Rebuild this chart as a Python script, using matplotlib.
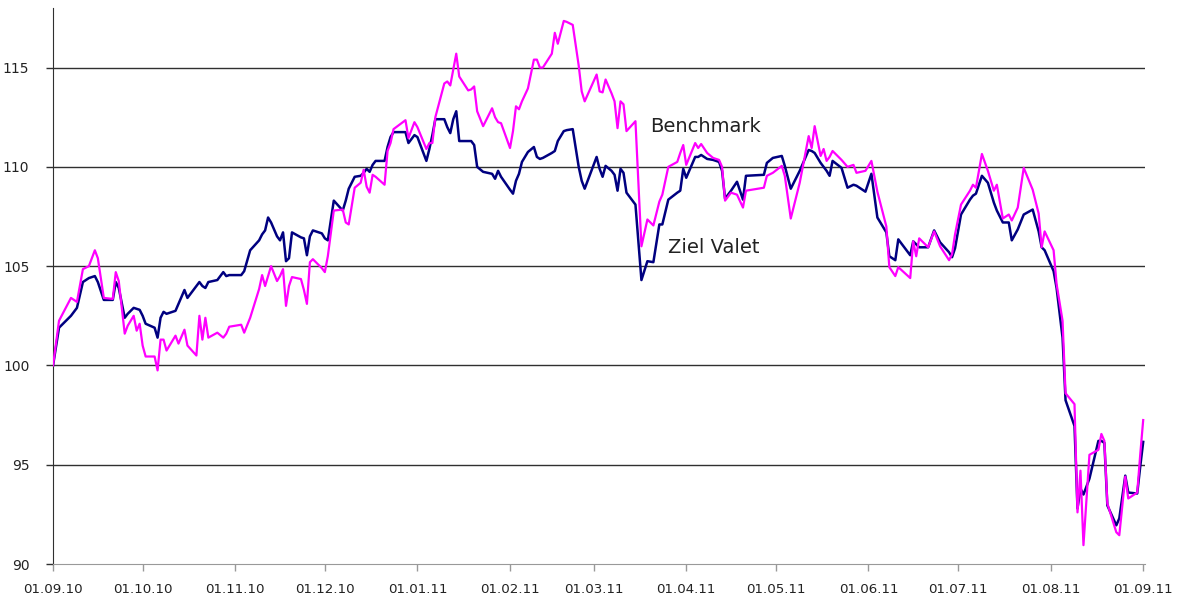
import pandas as pd
import matplotlib.pyplot as plt
import matplotlib.dates as mdates

plt.rcParams['font.family'] = ['DejaVu Sans']

dates = [
    "2010-09-01", "2010-09-03", "2010-09-07", "2010-09-09", "2010-09-11", "2010-09-13", "2010-09-15",
    "2010-09-16", "2010-09-18", "2010-09-21", "2010-09-22", "2010-09-23", "2010-09-25", "2010-09-26",
    "2010-09-28", "2010-09-29", "2010-09-30", "2010-10-01", "2010-10-02", "2010-10-05", "2010-10-06",
    "2010-10-07", "2010-10-08", "2010-10-09", "2010-10-12", "2010-10-13", "2010-10-15", "2010-10-16",
    "2010-10-19", "2010-10-20", "2010-10-21", "2010-10-22", "2010-10-23", "2010-10-26", "2010-10-28",
    "2010-10-29", "2010-10-30", "2010-11-03", "2010-11-04", "2010-11-06", "2010-11-09", "2010-11-10",
    "2010-11-11", "2010-11-12", "2010-11-13", "2010-11-15", "2010-11-16", "2010-11-17", "2010-11-18",
    "2010-11-19", "2010-11-20", "2010-11-23", "2010-11-24", "2010-11-25", "2010-11-26", "2010-11-27",
    "2010-11-30", "2010-12-01", "2010-12-02", "2010-12-04", "2010-12-07", "2010-12-08", "2010-12-09",
    "2010-12-11", "2010-12-13", "2010-12-14", "2010-12-15", "2010-12-16", "2010-12-17", "2010-12-18",
    "2010-12-21", "2010-12-22", "2010-12-23", "2010-12-24", "2010-12-28", "2010-12-29", "2010-12-31",
    "2011-01-01", "2011-01-04", "2011-01-05", "2011-01-06", "2011-01-07", "2011-01-10", "2011-01-11",
    "2011-01-12", "2011-01-13", "2011-01-14", "2011-01-15", "2011-01-18", "2011-01-19", "2011-01-20",
    "2011-01-21", "2011-01-23", "2011-01-26", "2011-01-27", "2011-01-28", "2011-01-29", "2011-02-01",
    "2011-02-02", "2011-02-03", "2011-02-04", "2011-02-05", "2011-02-07", "2011-02-09", "2011-02-10",
    "2011-02-11", "2011-02-12", "2011-02-15", "2011-02-16", "2011-02-17", "2011-02-19", "2011-02-20",
    "2011-02-22", "2011-02-24", "2011-02-25", "2011-02-26", "2011-03-02", "2011-03-03", "2011-03-04",
    "2011-03-05", "2011-03-07", "2011-03-08", "2011-03-09", "2011-03-10", "2011-03-11", "2011-03-12",
    "2011-03-15", "2011-03-17", "2011-03-19", "2011-03-21", "2011-03-23", "2011-03-24", "2011-03-26",
    "2011-03-29", "2011-03-30", "2011-03-31", "2011-04-01", "2011-04-04", "2011-04-05", "2011-04-06",
    "2011-04-08", "2011-04-10", "2011-04-12", "2011-04-13", "2011-04-14", "2011-04-16", "2011-04-18",
    "2011-04-20", "2011-04-21", "2011-04-27", "2011-04-28", "2011-04-30", "2011-05-03", "2011-05-04",
    "2011-05-06", "2011-05-09", "2011-05-12", "2011-05-13", "2011-05-14", "2011-05-16", "2011-05-17",
    "2011-05-18", "2011-05-19", "2011-05-20", "2011-05-23", "2011-05-25", "2011-05-27", "2011-05-28",
    "2011-05-31", "2011-06-02", "2011-06-04", "2011-06-07", "2011-06-08", "2011-06-10", "2011-06-11",
    "2011-06-15", "2011-06-16", "2011-06-17", "2011-06-18", "2011-06-21", "2011-06-23", "2011-06-25",
    "2011-06-28", "2011-06-29", "2011-06-30", "2011-07-02", "2011-07-05", "2011-07-06", "2011-07-07",
    "2011-07-09", "2011-07-11", "2011-07-13", "2011-07-14", "2011-07-16", "2011-07-18", "2011-07-19",
    "2011-07-21", "2011-07-23", "2011-07-26", "2011-07-28", "2011-07-29", "2011-07-30", "2011-08-02",
    "2011-08-03", "2011-08-05", "2011-08-06", "2011-08-09", "2011-08-10", "2011-08-11", "2011-08-12",
    "2011-08-14", "2011-08-17", "2011-08-18", "2011-08-19", "2011-08-20", "2011-08-23", "2011-08-24",
    "2011-08-26", "2011-08-27", "2011-08-30", "2011-08-31", "2011-09-01",
]

ziel_valet = [
    100.0, 101.9, 102.5, 102.9, 104.2, 104.4, 104.5,
    104.2, 103.3, 103.3, 104.2, 103.9, 102.4, 102.6,
    102.9, 102.85, 102.8, 102.5, 102.1, 101.9, 101.4,
    102.4, 102.7, 102.6, 102.75, 103.1, 103.8, 103.4,
    104.0, 104.2, 104.0, 103.9, 104.2, 104.3, 104.7,
    104.5, 104.55, 104.55, 104.75, 105.8, 106.3, 106.6,
    106.8, 107.45, 107.2, 106.5, 106.3, 106.7, 105.25,
    105.4, 106.7, 106.45, 106.4, 105.55, 106.5, 106.8,
    106.65, 106.4, 106.3, 108.3, 107.8, 108.3, 108.9,
    109.5, 109.55, 109.7, 109.9, 109.75, 110.1, 110.3,
    110.3, 111.0, 111.5, 111.75, 111.75, 111.2, 111.6,
    111.5, 110.3, 110.9, 111.6, 112.4, 112.4, 112.0,
    111.7, 112.4, 112.8, 111.3, 111.3, 111.3, 111.1,
    110.0, 109.75, 109.65, 109.4, 109.8, 109.5, 108.85,
    108.65, 109.3, 109.65, 110.25, 110.75, 111.0, 110.5,
    110.4, 110.45, 110.7, 110.8, 111.3, 111.8, 111.85,
    111.9, 110.0, 109.3, 108.9, 110.5, 109.9, 109.5,
    110.05, 109.8, 109.6, 108.8, 109.9, 109.7, 108.7,
    108.1, 104.3, 105.25, 105.2, 107.1, 107.1, 108.35,
    108.7, 108.8, 109.9, 109.45, 110.5, 110.5, 110.6,
    110.4, 110.35, 110.25, 109.8, 108.4, 108.8, 109.25,
    108.35, 109.55, 109.6, 110.2, 110.45, 110.55, 110.05,
    108.9, 109.8, 110.85, 110.8, 110.7, 110.2, 110.0,
    109.8, 109.55, 110.3, 109.95, 108.95, 109.1, 109.05,
    108.75, 109.65, 107.45, 106.7, 105.5, 105.3, 106.35,
    105.55, 106.25, 106.1, 105.95, 105.95, 106.8, 106.2,
    105.7, 105.45, 105.9, 107.6, 108.35, 108.55, 108.65,
    109.55, 109.2, 108.2, 107.8, 107.2, 107.2, 106.3,
    106.85, 107.6, 107.85, 106.75, 105.95, 105.8, 104.75,
    103.9, 101.4, 98.25, 96.95, 92.8, 93.8, 93.5,
    94.3, 96.2, 96.2, 96.1, 92.95, 91.95, 92.3,
    94.45, 93.6, 93.55, 94.9, 96.15,
]

benchmark = [
    100.0, 102.25, 103.4, 103.2, 104.85, 105.0, 105.8,
    105.4, 103.4, 103.35, 104.7, 104.25, 101.6, 102.0,
    102.5, 101.75, 102.1, 101.0, 100.45, 100.45, 99.75,
    101.3, 101.3, 100.75, 101.5, 101.1, 101.8, 101.0,
    100.5, 102.5, 101.3, 102.4, 101.4, 101.65, 101.4,
    101.6, 101.95, 102.05, 101.65, 102.4, 103.85, 104.55,
    104.0, 104.5, 105.0, 104.25, 104.5, 104.85, 103.0,
    104.0, 104.45, 104.35, 103.8, 103.1, 105.2, 105.35,
    104.9, 104.7, 105.5, 107.8, 107.85, 107.2, 107.1,
    108.95, 109.2, 109.85, 109.0, 108.7, 109.6, 109.5,
    109.1, 110.8, 111.2, 111.9, 112.35, 111.45, 112.25,
    112.0, 110.9, 111.2, 111.2, 112.5, 114.2, 114.3,
    114.1, 114.9, 115.7, 114.55, 113.85, 113.9, 114.05,
    112.8, 112.05, 112.95, 112.5, 112.25, 112.2, 110.95,
    111.8, 113.05, 112.9, 113.3, 113.95, 115.4, 115.4,
    115.0, 115.0, 115.7, 116.75, 116.2, 117.35, 117.3,
    117.15, 115.1, 113.8, 113.3, 114.65, 113.8, 113.75,
    114.4, 113.7, 113.3, 111.95, 113.3, 113.15, 111.8,
    112.3, 106.0, 107.35, 107.05, 108.25, 108.6, 110.0,
    110.25, 110.7, 111.1, 110.1, 111.2, 110.95, 111.15,
    110.7, 110.45, 110.35, 110.0, 108.3, 108.7, 108.6,
    107.95, 108.8, 108.95, 109.55, 109.7, 110.05, 109.55,
    107.4, 109.2, 111.55, 110.95, 112.05, 110.55, 110.9,
    110.3, 110.5, 110.8, 110.35, 110.0, 110.1, 109.7,
    109.8, 110.3, 108.75, 107.0, 104.95, 104.5, 104.95,
    104.4, 106.25, 105.5, 106.4, 105.95, 106.75, 106.0,
    105.3, 105.6, 106.6, 108.1, 108.8, 109.1, 108.95,
    110.65, 109.8, 108.8, 109.1, 107.4, 107.6, 107.3,
    107.95, 109.95, 108.85, 107.65, 105.95, 106.75, 105.8,
    104.1, 102.25, 98.6, 98.05, 92.6, 94.7, 90.95,
    95.5, 95.75, 96.55, 96.2, 93.05, 91.6, 91.45,
    94.4, 93.3, 93.6, 95.5, 97.25,
]

month_ticks = pd.date_range("2010-09-01", "2011-09-01", freq="MS")
y_ticks = [90, 95, 100, 105, 110, 115]

df = pd.DataFrame({"date": pd.to_datetime(dates), "ziel": ziel_valet, "bench": benchmark})

fig = plt.figure(figsize=(11.84, 6.02), dpi=100)
ax = fig.add_axes([0.0448, 0.0631, 0.922, 0.9236])

for yv in y_ticks[1:]:
    ax.axhline(yv, color='#303030', lw=1.0, zorder=1)

# benchmark is drawn over the fund line, as in the original
ax.plot(df["date"], df["ziel"], color='#000080', lw=1.8, zorder=2)
ax.plot(df["date"], df["bench"], color='#ff00ff', lw=1.6, zorder=3)

ax.text(pd.Timestamp("2011-03-20"), 112.05, "Benchmark", fontsize=14,
        color='#222222', ha='left', va='center')
ax.text(pd.Timestamp("2011-03-26"), 105.95, "Ziel Valet", fontsize=14,
        color='#222222', ha='left', va='center')

ax.set_ylim(90, 118)
ax.set_xlim(pd.Timestamp("2010-09-01"), pd.Timestamp("2011-09-01") + pd.Timedelta(hours=12))
ax.set_yticks(y_ticks)
ax.set_xticks(month_ticks)
ax.xaxis.set_major_formatter(mdates.DateFormatter("%d.%m.%y"))

for side in ['top', 'right']:
    ax.spines[side].set_visible(False)
ax.spines['left'].set_color('#303030')
ax.spines['bottom'].set_color('#999999')
ax.tick_params(axis='y', length=5, width=1, color='#303030', pad=12,
               labelsize=10, labelcolor='#222222')
ax.tick_params(axis='x', length=5, width=1, color='#999999', pad=9,
               labelsize=9.6, labelcolor='#222222')

fig.savefig("out.png", dpi=100)
